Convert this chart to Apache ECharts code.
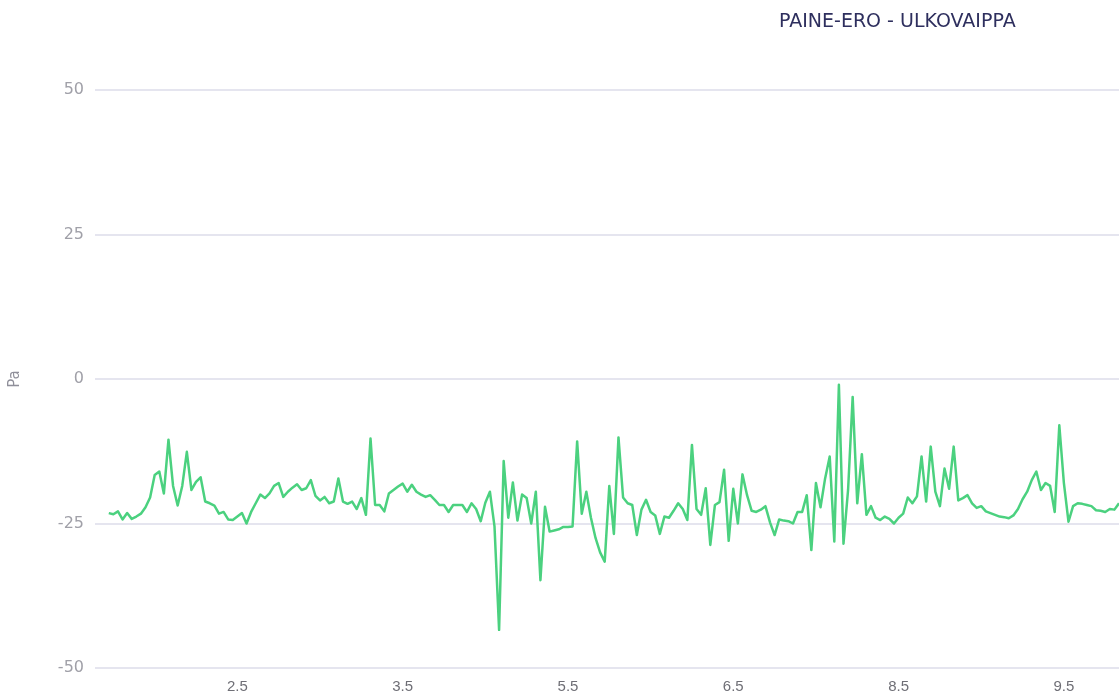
<!DOCTYPE html>
<html>
<head>
<meta charset="utf-8">
<title>Paine-ero - ulkovaippa</title>
<script src="https://cdn.jsdelivr.net/npm/echarts@6/dist/echarts.min.js"></script>
<style>
  html, body { margin: 0; padding: 0; background: #fff; }
  #chart { width: 1119px; height: 696px; }
</style>
</head>
<body>
<div id="chart"></div>
<script>
// hourly readings, first one at 30.4 17:00
const startTime = new Date(2023, 3, 30, 17)
const yTicks = [-50, -25, 0, 25, 50]

// Pa, null = no reading
const paineEro = [
  null, null, null, -23.2, -23.4, -22.9, -24.3, -23.2, -24.2, -23.8,
  -23.3, -22.2, -20.5, -16.6, -16.0, -19.8, -10.5, -18.5, -21.9, -18.5,
  -12.6, -19.2, -17.8, -17.0, -21.2, -21.5, -21.9, -23.3, -23.0, -24.3,
  -24.4, -23.8, -23.2, -25.0, -23.0, -21.5, -20.0, -20.6, -19.8, -18.5,
  -18.0, -20.4, -19.5, -18.8, -18.2, -19.2, -18.9, -17.5, -20.2, -21.0,
  -20.4, -21.5, -21.2, -17.2, -21.2, -21.6, -21.2, -22.5, -20.6, -23.5,
  -10.3, -21.8, -21.8, -22.9, -19.8, -19.2, -18.6, -18.1, -19.5, -18.3,
  -19.5, -20.0, -20.4, -20.1, -20.9, -21.8, -21.8, -23.0, -21.8, -21.8,
  -21.8, -23.0, -21.5, -22.5, -24.6, -21.4, -19.5, -25.5, -43.4, -14.2,
  -24.0, -17.9, -24.5, -20.0, -20.6, -25.0, -19.5, -34.8, -22.1, -26.4,
  -26.2, -26.0, -25.6, -25.6, -25.5, -10.8, -23.3, -19.5, -24.0, -27.5,
  -30.0, -31.6, -18.5, -26.8, -10.1, -20.5, -21.5, -21.8, -27.0, -22.6,
  -20.9, -23.0, -23.6, -26.8, -23.8, -24.0, -22.8, -21.5, -22.5, -24.4,
  -11.4, -22.5, -23.5, -18.9, -28.7, -21.8, -21.3, -15.7, -28.0, -19.0,
  -25.0, -16.5, -20.1, -22.8, -23.0, -22.6, -22.0, -24.8, -27.0, -24.3,
  -24.5, -24.6, -25.0, -23.0, -23.0, -20.1, -29.6, -18.0, -22.2, -17.2,
  -13.4, -28.1, -1.0, -28.5, -19.2, -3.1, -21.5, -13.0, -23.5, -22.0,
  -24.0, -24.4, -23.8, -24.2, -25.0, -24.0, -23.3, -20.5, -21.5, -20.3,
  -13.4, -21.2, -11.7, -19.5, -22.0, -15.5, -19.0, -11.7, -21.0, -20.6,
  -20.1, -21.5, -22.3, -22.0, -22.9, -23.2, -23.5, -23.8, -23.9, -24.1,
  -23.6, -22.5, -20.8, -19.5, -17.5, -16.0, -19.2, -18.0, -18.5, -23.0,
  -8.0, -18.0, -24.7, -22.0, -21.5, -21.6, -21.8, -22.0, -22.7, -22.8,
  -23.0, -22.5, -22.6, -21.5
]

const times = paineEro.map((v, i) => {
  const d = new Date(startTime.getTime() + i * 3600 * 1000)
  return `${d.getDate()}.${d.getMonth() + 1} ${String(d.getHours()).padStart(2, '0')}:00`
})

const chart = echarts.init(document.getElementById('chart'))

const option = {
  animation: false,
  title: {
    text: 'PAINE-ERO - ULKOVAIPPA',
    left: 774,
    top: 8,
    textStyle: {
      fontFamily: 'DejaVu Sans',
      fontSize: 19,
      fontWeight: 'normal',
      color: '#2e2f5e'
    }
  },
  grid: {
    left: 93,
    right: 0,
    top: 90,
    bottom: 28
  },
  xAxis: {
    type: 'category',
    data: times,
    boundaryGap: false,
    axisLine: { show: false },
    axisTick: { show: false },
    axisLabel: {
      // joka 36. tunti
      interval: (index) => (index - 31) % 36 === 0,
      formatter: (value) => value.split(' ')[0],
      color: '#6f6f76',
      fontFamily: 'Liberation Sans Narrow, Liberation Sans',
      fontSize: 15,
      margin: 11
    },
    splitLine: { show: false }
  },
  yAxis: {
    type: 'value',
    min: yTicks[0],
    max: yTicks[yTicks.length - 1],
    interval: 25,
    name: 'Pa',
    nameLocation: 'middle',
    nameGap: 72,
    nameTextStyle: {
      color: '#8f8f9a',
      fontFamily: 'DejaVu Sans',
      fontSize: 15
    },
    axisLine: { show: false },
    axisTick: { show: false },
    axisLabel: {
      color: '#a0a0a8',
      fontFamily: 'DejaVu Sans',
      fontSize: 16,
      margin: 11
    },
    splitLine: {
      lineStyle: { color: '#dcdcea', width: 1.5 }
    }
  },
  series: [
    {
      name: 'Paine-ero',
      type: 'line',
      data: paineEro,
      showSymbol: false,
      smooth: false,
      lineStyle: {
        color: '#4bd17f',
        width: 2.5,
        join: 'round'
      },
      itemStyle: { color: '#4bd17f' }
    }
  ]
}

chart.setOption(option)
</script>
</body>
</html>
